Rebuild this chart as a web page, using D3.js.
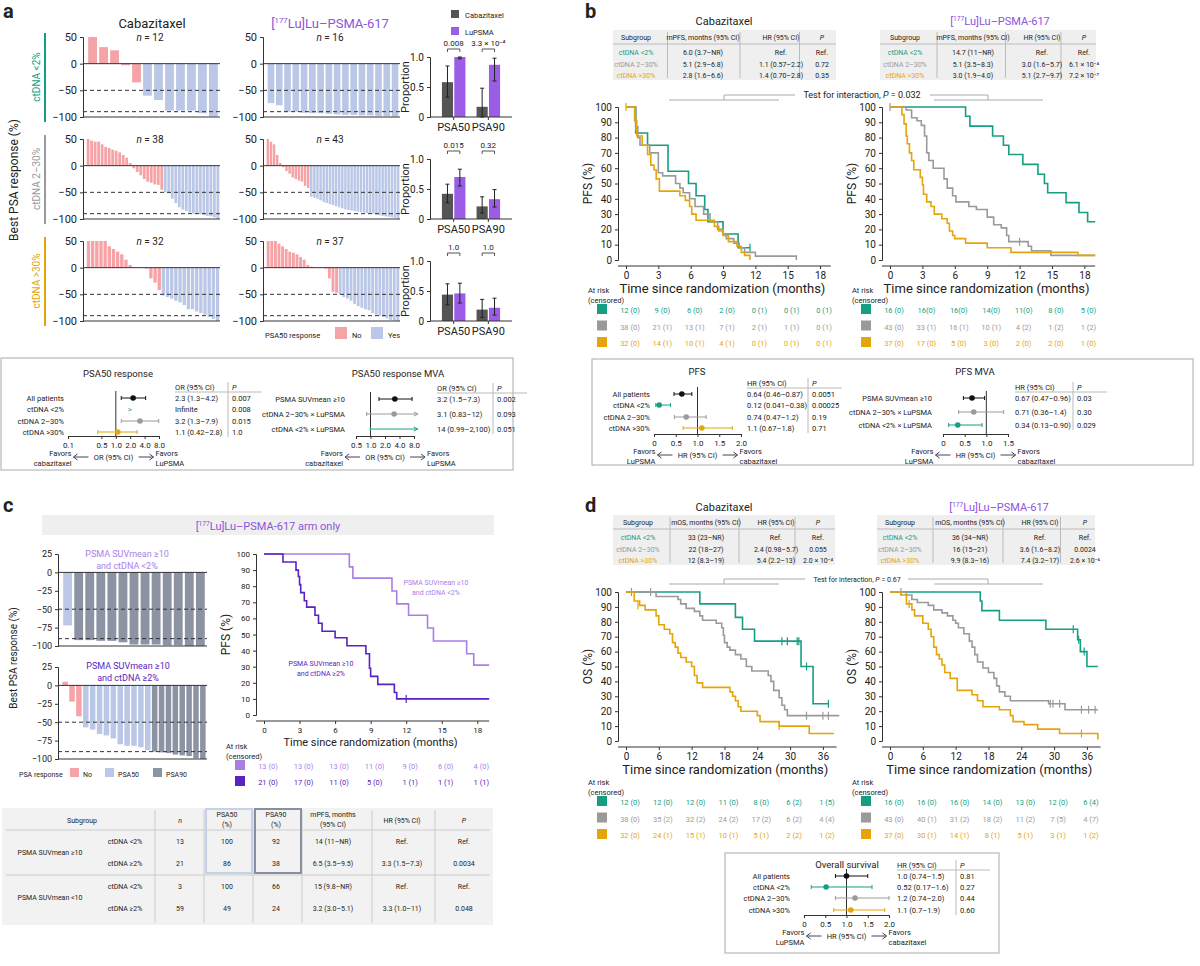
<!DOCTYPE html>
<html><head><meta charset="utf-8">
<script src="https://cdn.jsdelivr.net/npm/d3@7"></script>
<style>body{margin:0;background:#fff}svg{font-family:Roboto,"Noto Sans",sans-serif}</style>
</head><body><svg id="c" width="1200" height="966"></svg>
<script>
// ---- colours
var TEAL="#169e83", GREY="#9a9a9a", GOLD="#e5a50a", PINK="#f5a3a6", BLUE="#bac7e6", DARK="#8c93a3", PURP="#8e52dc", LPURP="#a97fe6", DPURP="#5a22c2";
var grpCols=[TEAL,GREY,GOLD];
var grpNames=["ctDNA <2%","ctDNA 2–30%","ctDNA >30%"];

// ---- panel a waterfall data (best PSA change, %)
var cab1=[50,31,25,-3,-35,-60,-68,-88,-88,-88,-93,-99];
var lu1=[-74,-78,-90,-90,-92,-93,-93,-94,-95,-96,-96,-97,-97,-98,-98,-99];
var cab2=[50,47,45,45,40,35,33,30,28,25,20,15,5,-5,-12,-18,-25,-30,-32,-35,-36,-45,-50,-52,-62,-70,-78,-82,-85,-88,-90,-90,-91,-92,-94,-95,-97,-100];
var lu2=[50,45,40,20,5,-3,-10,-15,-22,-25,-28,-30,-38,-42,-58,-60,-62,-65,-68,-70,-72,-74,-76,-78,-80,-82,-83,-84,-85,-86,-87,-88,-89,-90,-90,-92,-93,-94,-95,-96,-97,-98,-100];
var cab3=[50,50,50,50,50,40,35,30,25,15,5,0,0,0,-2,-20,-28,-42,-52,-55,-58,-62,-65,-70,-78,-78,-82,-85,-88,-92,-96,-100];
var lu3=[50,50,50,45,40,35,30,28,25,20,15,5,2,0,0,0,-2,-20,-45,-47,-50,-55,-58,-62,-68,-72,-75,-78,-80,-85,-88,-90,-92,-95,-98,-99,-100];
// proportions [cab, lu] for PSA50, PSA90 : value, lo, hi
var propRows=[
 {p50:[[.58,.33,.85],[1.0,.97,1.0]],p90:[[.17,0,.48],[.87,.6,.98]],pv:["0.008","3.3 × 10⁻⁴"]},
 {p50:[[.42,.27,.58],[.70,.55,.83]],p90:[[.21,.1,.37],[.33,.2,.49]],pv:["0.015","0.32"]},
 {p50:[[.44,.27,.62],[.46,.3,.63]],p90:[[.19,.06,.36],[.22,.1,.38]],pv:["1.0","1.0"]}];
// forest a
var orLabels=["All patients","ctDNA <2%","ctDNA 2–30%","ctDNA >30%"];
var orVals=[[2.3,1.3,4.2],[null,null,null],[3.2,1.3,7.9],[1.1,0.42,2.8]];
var orText=["2.3 (1.3–4.2)","Infinite","3.2 (1.3–7.9)","1.1 (0.42–2.8)"];
var orP=["0.007","0.008","0.015","1.0"];
var mvaLabels=["PSMA SUVmean ≥10","ctDNA 2–30% × LuPSMA","ctDNA <2% × LuPSMA"];
var mvaVals=[[3.2,1.5,7.3],[3.1,0.83,12],[14,0.99,2100]];
var mvaText=["3.2 (1.5–7.3)","3.1 (0.83–12)","14 (0.99–2,100)"];
var mvaP=["0.002","0.093","0.051"];

// ---- panel b KM (time months, PFS %)
var bCab=[
 [[0,100],[0.9,83],[2,75],[3.9,58],[5.8,50],[6.5,42],[7.3,33],[7.6,25],[9,17],[10.4,8],[11.5,8]],
 [[0,100],[0.9,87],[1.1,80],[1.3,75],[2.2,70],[3,57],[3.4,55],[4.6,50],[5,47],[5.3,44],[5.9,40],[6.4,35],[7.2,30],[7.8,25],[8.5,20],[9,17],[9.3,14],[10,11],[10.5,8],[11,5],[12,2.5],[15.8,2.5],[15.8,0]],
 [[0,100],[0.8,91],[1,81],[1.5,75],[2,69],[2.3,62],[2.6,59],[2.8,53],[3.1,45],[5,42],[5.5,39],[5.9,35],[6.1,30],[6.5,26],[8.2,22],[8.6,19],[9,16],[9.5,12],[10.3,9],[10.7,5],[11,3],[11.5,0]]];
var bLu=[
 [[0,100],[7,94],[7.4,87.5],[9.5,81],[10.5,75],[11,69],[12.3,62.5],[13.7,56],[14.3,50],[14.6,44],[16.3,37.5],[17.5,31],[18.3,25],[19,25]],
 [[0,100],[1.5,98],[2,93],[2.5,91],[2.9,88],[3.2,81],[3.4,70],[3.6,65],[4,60],[5,53],[5.3,47],[5.8,42],[6.1,38],[7.3,35],[8,33],[9,28],[9.6,23],[10.3,21],[10.8,16],[11,12],[12.8,9],[13.1,6],[14.9,3],[19,3]],
 [[0,100],[1.1,95],[1.3,89],[1.5,81],[1.6,76],[1.8,70],[2,65],[2.2,59],[2.8,54],[3,49],[3.1,43],[3.4,38],[3.8,35],[4.1,30],[4.8,27],[5.3,24],[5.5,19],[5.8,16],[6,14],[7,11],[9,8],[11.2,5],[17.4,3],[19,3]]];
var bCabCens=[[[11.5,8]],[[0.9,87]],[[0,100]]];
var bLuCens=[[],[[0,100],[12,12]],[]];
var bCabRisk=[["12 (0)","9 (0)","6 (0)","2 (0)","0 (1)","0 (1)","0 (1)"],["38 (0)","21 (1)","13 (1)","7 (1)","2 (1)","1 (1)","0 (1)"],["32 (0)","14 (1)","10 (1)","4 (1)","0 (1)","0 (1)","0 (1)"]];
var bLuRisk=[["16 (0)","16(0)","16(0)","14(0)","11(0)","8 (0)","5 (0)"],["43 (0)","33 (1)","16 (1)","10 (1)","4 (2)","1 (2)","1 (2)"],["37 (0)","17 (0)","5 (0)","3 (0)","2 (0)","2 (0)","1 (0)"]];
var bCabTable=[["6.0 (3.7–NR)","Ref.","Ref."],["5.1 (2.9–6.8)","1.1 (0.57–2.2)","0.72"],["2.8 (1.6–6.6)","1.4 (0.70–2.8)","0.35"]];
var bLuTable=[["14.7 (11–NR)","Ref.","Ref."],["5.1 (3.5–8.3)","3.0 (1.6–5.7)","6.1 × 10⁻⁴"],["3.0 (1.9–4.0)","5.1 (2.7–9.7)","7.2 × 10⁻⁷"]];
var pfsLabels=["All patients","ctDNA <2%","ctDNA 2–30%","ctDNA >30%"];
var pfsVals=[[0.64,0.46,0.87],[0.12,0.041,0.38],[0.74,0.47,1.2],[1.1,0.67,1.8]];
var pfsText=["0.64 (0.46–0.87)","0.12 (0.041–0.38)","0.74 (0.47–1.2)","1.1 (0.67–1.8)"];
var pfsP=["0.0051","0.00025","0.19","0.71"];
var pmvaLabels=["PSMA SUVmean ≥10","ctDNA 2–30% × LuPSMA","ctDNA <2% × LuPSMA"];
var pmvaVals=[[0.67,0.47,0.96],[0.71,0.36,1.4],[0.34,0.13,0.90]];
var pmvaText=["0.67 (0.47–0.96)","0.71 (0.36–1.4)","0.34 (0.13–0.90)"];
var pmvaP=["0.03","0.30","0.029"];

// ---- panel c
var cTop=[-72,-92,-92,-93,-93,-95,-98,-98,-98,-99,-99,-100,-100];
var cBot=[5,-22,-42,-57,-60,-66,-68,-72,-80,-82,-82,-84,-88,-90,-91,-92,-94,-95,-96,-99,-100];
var cKm=[
 [[0,100],[7.2,92],[7.5,85],[10.8,77],[11.2,69],[12.2,62],[13.8,54],[14.3,46],[17.1,38],[17.7,31],[19,31]],
 [[0,100],[1.6,95],[2.7,90],[2.9,86],[3,81],[3.1,76],[3.4,71],[3.6,67],[4.3,62],[4.6,57],[4.9,52],[6,48],[7,43],[8.6,38],[8.9,29],[9,24],[9.6,19],[11,14],[11.2,10],[19,10]]];
var cCens=[[],[[12,10]]];
var cRisk=[["13 (0)","13 (0)","13 (0)","11 (0)","9 (0)","6 (0)","4 (0)"],["21 (0)","17 (0)","11 (0)","5 (0)","1 (1)","1 (1)","1 (1)"]];
var cTableRows=[
 ["PSMA SUVmean ≥10","ctDNA <2%","13","100","92","14 (11–NR)","Ref.","Ref."],
 ["","ctDNA ≥2%","21","86","38","6.5 (3.5–9.5)","3.3 (1.5–7.3)","0.0034"],
 ["PSMA SUVmean <10","ctDNA <2%","3","100","66","15 (9.8–NR)","Ref.","Ref."],
 ["","ctDNA ≥2%","59","49","24","3.2 (3.0–5.1)","3.3 (1.0–11)","0.048"]];

// ---- panel d OS
var dCab=[
 [[0,100],[13.5,92],[20,83],[21.3,75],[23.5,67],[32,50],[34.2,25],[37,25]],
 [[0,100],[5.5,97],[9.5,95],[10,92],[11,89],[12.5,87],[13.5,84],[14,81],[16.5,79],[17.5,76],[17.8,71],[18,66],[18.5,63],[19,61],[20,58],[21,55],[22,50],[23,47],[26,44],[26.5,40],[27,34],[28,29],[28.5,24],[29,21],[29.5,17],[39,17]],
 [[0,100],[1.5,94],[2.5,91],[3.5,88],[5.5,84],[6,78],[7,75],[8,72],[8.5,66],[9,63],[9.5,59],[10,56],[11,53],[12,50],[12.5,44],[13,39],[14,36],[19,33],[19.5,30],[20,27],[20.5,23],[21,20],[24,17],[24.5,13],[28,10],[33.5,5],[38,5]]];
var dLu=[
 [[0,100],[16.5,94],[16.8,87.5],[20,81],[28.5,75],[34.3,68],[34.8,60],[36,50],[38,50]],
 [[0,100],[3,98],[4,95],[5,93],[7,91],[8,88],[9.5,86],[10.5,84],[11.5,81],[12,79],[12.5,76],[13.5,72],[14.5,67],[15,63],[15.5,58],[16,53],[17,49],[18,46],[19,42],[19.5,37],[20,33],[21,30],[22,27],[29,25],[32,21],[38,21]],
 [[0,100],[2,98],[3,92],[4,88],[4.5,84],[6,79],[7,75],[7.5,70],[8,63],[8.5,58],[9,55],[9.5,51],[10,46],[11,42],[12.3,34],[15,31],[16,27],[17,23],[20,21],[22,17],[22.5,13],[24.5,11],[27,8],[31,5],[38,5],[38,1]]];
var dCabCens=[[[28.5,67],[29.5,67],[31.3,67],[31.6,67],[33,50],[37,25]],[[1,100],[4.5,100],[33,17],[36,17],[37,17]],[[2.2,91],[28,10]]];
var dLuCens=[[[33.5,75],[34.5,68],[35.5,60]],[[2,100],[29.3,25],[29.8,25],[31,25],[35,21],[36.3,21],[37.5,21]],[[3.5,92],[35,5]]];
var dCabRisk=[["12 (0)","12 (0)","12 (0)","11 (0)","8 (0)","6 (2)","1 (5)"],["38 (0)","35 (2)","32 (2)","24 (2)","17 (2)","6 (2)","4 (4)"],["32 (0)","24 (1)","15 (1)","10 (1)","5 (1)","2 (2)","1 (2)"]];
var dLuRisk=[["16 (0)","16 (0)","16 (0)","14 (0)","13 (0)","12 (0)","6 (4)"],["43 (0)","40 (1)","31 (2)","18 (2)","11 (2)","7 (5)","4 (7)"],["37 (0)","30 (1)","14 (1)","8 (1)","5 (1)","3 (1)","1 (2)"]];
var dCabTable=[["33 (23–NR)","Ref.","Ref."],["22 (18–27)","2.4 (0.98–5.7)","0.055"],["12 (8.3–19)","5.4 (2.2–13)","2.0 × 10⁻⁴"]];
var dLuTable=[["36 (34–NR)","Ref.","Ref."],["16 (15–21)","3.6 (1.6–8.2)","0.0024"],["9.9 (8.3–16)","7.4 (3.2–17)","2.6 × 10⁻⁶"]];
var osVals=[[1.0,0.74,1.5],[0.52,0.17,1.6],[1.2,0.74,2.0],[1.1,0.7,1.9]];
var osText=["1.0 (0.74–1.5)","0.52 (0.17–1.6)","1.2 (0.74–2.0)","1.1 (0.7–1.9)"];
var osP=["0.81","0.27","0.44","0.60"];

var svg=d3.select("#c");

function txt(x,y,s,o){o=o||{};var t=svg.append("text").attr("x",x).attr("y",y).text(s)
 .attr("font-size",o.size||9).attr("fill",o.fill||"#222").attr("text-anchor",o.anchor||"start");
 if(o.bold)t.attr("font-weight","bold"); if(o.rot)t.attr("transform","rotate(-90,"+x+","+y+")"); if(o.italic)t.attr("font-style","italic"); return t;}
function luTitle(x,y,s,suffix){var t=svg.append("text").attr("x",x).attr("y",y).attr("font-size",s).attr("fill",PURP).attr("text-anchor","middle");
 t.append("tspan").text("[");t.append("tspan").text("177").attr("font-size",s*0.6).attr("dy",-s*0.4);
 t.append("tspan").text("Lu]Lu–PSMA-617"+(suffix||"")).attr("dy",s*0.4);}
function styleAxis(g,fs){g.selectAll("path,line").attr("stroke","#333");g.selectAll("text").attr("font-size",fs).attr("fill","#222").attr("font-family","Roboto,sans-serif");}

// panel letters
txt(3,18,"a",{size:20,bold:true});txt(585,18,"b",{size:20,bold:true});
txt(3,512,"c",{size:20,bold:true});txt(585,512,"d",{size:20,bold:true});

// ---------- waterfall
function waterfall(x0,x1,yTop,yBot,vals,ymin,ymax,ticks,colFn,fs){
 var x=d3.scaleBand().domain(d3.range(vals.length)).range([x0+3,x1]).padding(0.2);
 var y=d3.scaleLinear().domain([ymin,ymax]).range([yBot,yTop]);
 var g=svg.append("g");
 g.selectAll("rect").data(vals).enter().append("rect")
  .attr("x",(d,i)=>x(i)).attr("width",x.bandwidth())
  .attr("y",d=>y(Math.max(0,d))).attr("height",d=>Math.abs(y(d)-y(0))).attr("fill",colFn);
 [-50,-90].forEach(v=>g.append("line").attr("x1",x0).attr("x2",x1).attr("y1",y(v)).attr("y2",y(v)).attr("stroke","#333").attr("stroke-dasharray","4,3"));
 g.append("line").attr("x1",x0).attr("x2",x1).attr("y1",y(0)).attr("y2",y(0)).attr("stroke","#333");
 g.append("line").attr("x1",x0).attr("x2",x1).attr("y1",yBot).attr("y2",yBot).attr("stroke","#333");
 var ax=svg.append("g").attr("transform","translate("+x0+",0)").call(d3.axisLeft(y).tickValues(ticks).tickSize(3).tickFormat(d3.format("d")));
 styleAxis(ax,fs);
}
var aCol=d=>d>-50?PINK:BLUE;
var aRows=[[cab1,lu1,12,16],[cab2,lu2,38,43],[cab3,lu3,32,37]];
aRows.forEach(function(r,i){
 var yT=37+i*102, yB=117+i*102;
 waterfall(83,220,yT,yB,r[0],-100,50,[50,0,-50,-100],aCol,11);
 waterfall(263,400,yT,yB,r[1],-100,50,[50,0,-50,-100],aCol,11);
 var t=txt(150,yT+4,"",{size:10,anchor:"middle"});t.append("tspan").text("n").attr("font-style","italic");t.append("tspan").text(" = "+r[2]);
 t=txt(330,yT+4,"",{size:10,anchor:"middle"});t.append("tspan").text("n").attr("font-style","italic");t.append("tspan").text(" = "+r[3]);
 svg.append("line").attr("x1",45).attr("x2",45).attr("y1",33+i*102).attr("y2",122+i*102).attr("stroke",grpCols[i]).attr("stroke-width",2);
 txt(40,77+i*102,grpNames[i],{size:10,fill:grpCols[i],anchor:"middle",rot:true});
 // proportion bars
 var pr=propRows[i], yb=d3.scaleLinear().domain([0,1]).range([117+i*102,57+i*102]);
 var xb=d3.scaleBand().domain(["PSA50","PSA90"]).range([432,510]).padding(0.25);
 var xi=d3.scaleBand().domain([0,1]).range([0,xb.bandwidth()]).padding(0.1);
 ["PSA50","PSA90"].forEach(function(k,ki){var arr=ki?pr.p90:pr.p50;
  arr.forEach(function(v,j){var bx=xb(k)+xi(j);
   svg.append("rect").attr("x",bx).attr("width",xi.bandwidth()).attr("y",yb(v[0])).attr("height",yb(0)-yb(v[0])).attr("fill",j?"#9b5de5":"#555");
   var cx=bx+xi.bandwidth()/2;
   svg.append("line").attr("x1",cx).attr("x2",cx).attr("y1",yb(v[1])).attr("y2",yb(v[2])).attr("stroke","#222");
   [v[1],v[2]].forEach(e=>svg.append("line").attr("x1",cx-2).attr("x2",cx+2).attr("y1",yb(e)).attr("y2",yb(e)).attr("stroke","#222"));});
  var bx0=xb(k)+xi(0)+xi.bandwidth()/2, bx1=xb(k)+xi(1)+xi.bandwidth()/2, by=yb(1)-8;
  svg.append("path").attr("d","M"+bx0+","+(by+3)+"V"+by+"H"+bx1+"V"+(by+3)).attr("fill","none").attr("stroke","#555");
  txt((bx0+bx1)/2,by-3,pr.pv[ki],{size:8,anchor:"middle"});
 });
 var ay=svg.append("g").attr("transform","translate(430,0)").call(d3.axisLeft(yb).tickValues([0,0.5,1]).tickSize(3).tickFormat(d=>d==0?"0":d3.format(".1f")(d)));styleAxis(ay,10);
 var ax=svg.append("g").attr("transform","translate(0,"+(117+i*102)+")").call(d3.axisBottom(xb).tickSize(3));ax.select(".domain").attr("d","M430,0H512");styleAxis(ax,11);
 txt(409,87+i*102,"Proportion",{size:11,anchor:"middle",rot:true});
});
txt(152,28,"Cabazitaxel",{size:13,anchor:"middle"});luTitle(330,28,13);
txt(18,180,"Best PSA response (%)",{size:12,anchor:"middle",rot:true});
svg.append("rect").attr("x",451).attr("y",10).attr("width",8).attr("height",8).attr("fill","#555");txt(465,18,"Cabazitaxel",{size:7.5});
svg.append("rect").attr("x",451).attr("y",27).attr("width",8).attr("height",8).attr("fill","#9b5de5");txt(465,35,"LuPSMA",{size:7.5});
txt(265,338,"PSA50 response",{size:7.5});
svg.append("rect").attr("x",335).attr("y",327).attr("width",12).attr("height",12).attr("fill",PINK);txt(352,338,"No",{size:7.5});
svg.append("rect").attr("x",371).attr("y",327).attr("width",12).attr("height",12).attr("fill",BLUE);txt(388,338,"Yes",{size:7.5});

// ---------- forest helper
function forest(o){
 var x=(o.log?d3.scaleLog():d3.scaleLinear()).domain(o.domain).range(o.range);
 var gy=o.axisY;
 svg.append("line").attr("x1",x(o.ref)).attr("x2",x(o.ref)).attr("y1",o.rows[0]-7).attr("y2",gy).attr("stroke","#333");
 o.vals.forEach(function(v,i){var c=o.cols[i],y=o.rows[i];
  txt(o.labelX,y+3,o.labels[i],{size:7.5,anchor:"end"});
  if(v[0]!=null){var hi=Math.min(v[2],o.domain[1]*1.2);
   svg.append("line").attr("x1",x(Math.max(v[1],o.domain[0]*0.8))).attr("x2",x(hi)).attr("y1",y).attr("y2",y).attr("stroke",c);
   [v[1],v[2]].forEach(e=>{if(e>=o.domain[0]&&e<=o.domain[1])svg.append("line").attr("x1",x(e)).attr("x2",x(e)).attr("y1",y-2).attr("y2",y+2).attr("stroke",c);});
   if(v[2]>o.domain[1])svg.append("path").attr("d","M"+(x(hi)-4)+","+(y-2)+"L"+x(hi)+","+y+"L"+(x(hi)-4)+","+(y+2)).attr("fill","none").attr("stroke",c);
   if(v[0]<=o.domain[1])svg.append("circle").attr("cx",x(v[0])).attr("cy",y).attr("r",2.8).attr("fill",c);}
  else txt(x(o.ref)+12,y+3,">",{size:8,fill:c});
  txt(o.textX,y+3,o.text[i],{size:7.5});txt(o.pX,y+3,o.p[i],{size:7.5});
 });
 txt(o.textX,o.rows[0]-8,o.head,{size:7.5});txt(o.pX,o.rows[0]-8,"P",{size:7.5,italic:true});
 svg.append("line").attr("x1",o.pX-4).attr("x2",o.pX-4).attr("y1",o.rows[0]-16).attr("y2",o.rows[o.rows.length-1]+5).attr("stroke","#bbb");
 svg.append("line").attr("x1",o.textX).attr("x2",o.pX+30).attr("y1",o.rows[0]-6).attr("y2",o.rows[0]-6).attr("stroke","#bbb");
 var ax=svg.append("g").attr("transform","translate(0,"+gy+")").call(d3.axisBottom(x).tickValues(o.ticks).tickSize(3).tickFormat(o.fmt));styleAxis(ax,8);
 var cx=(o.range[0]+o.range[1])/2, fy=gy+24;
 txt(cx,fy,o.mid,{size:7.5,anchor:"middle"});
 txt(cx-42,fy-4,"Favors",{size:7.5,anchor:"end"});txt(cx-42,fy+6,o.left,{size:7.5,anchor:"end"});
 txt(cx+42,fy-4,"Favors",{size:7.5});txt(cx+42,fy+6,o.right,{size:7.5});
 svg.append("path").attr("d","M"+(cx-25)+","+(fy-3)+"H"+(cx-40)+"M"+(cx-36)+","+(fy-6)+"l-4,3l4,3").attr("stroke","#445").attr("fill","none");
 svg.append("path").attr("d","M"+(cx+25)+","+(fy-3)+"H"+(cx+40)+"M"+(cx+36)+","+(fy-6)+"l4,3l-4,3").attr("stroke","#445").attr("fill","none");
}
var fcols=["#111",TEAL,GREY,GOLD];
svg.append("rect").attr("x",1).attr("y",358).attr("width",512).attr("height",112).attr("fill","none").attr("stroke","#aaa");
txt(118,377,"PSA50 response",{size:9.5,anchor:"middle"});txt(398,377,"PSA50 response MVA",{size:9.5,anchor:"middle"});
forest({log:true,domain:[0.1,8],range:[68,159],ref:1,axisY:436,rows:[398,409,421,432],labelX:64,labels:orLabels,vals:orVals,cols:fcols,text:orText,p:orP,textX:175,pX:232,head:"OR (95% CI)",ticks:[0.1,0.5,1,2,4,8],fmt:d=>d==0.1?"0.1":d3.format(".1f")(d),mid:"OR (95% CI)",left:"cabazitaxel",right:"LuPSMA"});
forest({log:true,domain:[0.5,8],range:[356,414],ref:1,axisY:436,rows:[399,414,429],labelX:345,labels:mvaLabels,vals:mvaVals,cols:["#111",GREY,TEAL],text:mvaText,p:mvaP,textX:437,pX:497,head:"OR (95% CI)",ticks:[0.5,1,2,4,8],fmt:d3.format(".1f"),mid:"OR (95% CI)",left:"cabazitaxel",right:"LuPSMA"});

// ---------- KM helper
function km(o){
 var x=d3.scaleLinear().domain([0,o.xmax]).range([o.x0,o.x0+o.pxPer*o.xmax]);
 var y=d3.scaleLinear().domain([0,100]).range([o.y1,o.y0]);
 var line=d3.line().x(d=>x(d[0])).y(d=>y(d[1])).curve(d3.curveStepAfter);
 o.curves.forEach(function(c,i){svg.append("path").attr("d",line(c)).attr("fill","none").attr("stroke",o.cols[i]).attr("stroke-width",1.6);
  (o.cens[i]||[]).forEach(p=>svg.append("line").attr("x1",x(p[0])).attr("x2",x(p[0])).attr("y1",y(p[1])-4).attr("y2",y(p[1])+4).attr("stroke",o.cols[i]).attr("stroke-width",1.2));});
 var ay=svg.append("g").attr("transform","translate("+(o.x0-8)+",0)").call(d3.axisLeft(y).tickValues(d3.range(0,101,10)).tickSize(3));styleAxis(ay,o.fs);
 var ax=svg.append("g").attr("transform","translate(0,"+(o.y1+6)+")").call(d3.axisBottom(x).tickValues(o.ticks).tickSize(3));styleAxis(ax,o.fs);
 ax.select(".domain").attr("d","M"+(o.x0-8)+",0H"+x(o.xmax));
 txt((o.x0+x(o.xmax))/2-6,o.y1+(o.xlabDy||33),"Time since randomization (months)",{size:o.xfs||13,anchor:"middle"});
 txt(o.x0-34,(o.y0+o.y1)/2,o.ylab,{size:12,anchor:"middle",rot:true});
 txt(o.x0-38,o.riskY-20,"At risk",{size:7.5});txt(o.x0-38,o.riskY-10,"(censored)",{size:7.5});
 o.risk.forEach(function(r,i){var ry=o.riskY+i*o.riskGap;
  svg.append("rect").attr("x",o.x0-29).attr("y",ry-9).attr("width",10).attr("height",10).attr("fill",o.cols[i]);
  r.forEach((s,j)=>txt(x(o.ticks[j])+4,ry,s,{size:7.5,fill:o.cols[i],anchor:"middle"}));});
}
// small tables b/d
function smallTable(x0,y0,colX,head,rows,w){
 svg.append("rect").attr("x",x0).attr("y",y0).attr("width",w).attr("height",50).attr("fill","#efefef");
 svg.append("line").attr("x1",x0).attr("x2",x0+w).attr("y1",y0+14).attr("y2",y0+14).attr("stroke","#bbb");
 [1,2,3].forEach(k=>svg.append("line").attr("x1",colX[k]-(colX[k]-colX[k-1])/2-2).attr("x2",colX[k]-(colX[k]-colX[k-1])/2-2).attr("y1",y0+2).attr("y2",y0+48).attr("stroke","#bbb"));
 head.forEach((h,k)=>txt(colX[k],y0+10,h,{size:7,anchor:"middle",italic:k==3}));
 rows.forEach(function(r,i){var yy=y0+25+i*11.5;txt(colX[0],yy,grpNames[i],{size:7,fill:grpCols[i],anchor:"middle"});
  r.forEach((s,k)=>txt(colX[k+1],yy,s,{size:7,anchor:"middle"}));});
}
// b
txt(724,25,"Cabazitaxel",{size:11,anchor:"middle"});luTitle(1000,25,11);
smallTable(613,30,[636,703,781,822],["Subgroup","mPFS, months (95% CI)","HR (95% CI)","P"],bCabTable,223);
smallTable(880,30,[905,973,1042,1084],["Subgroup","mPFS, months (95% CI)","HR (95% CI)","P"],bLuTable,216);
svg.append("path").attr("d","M669,100H779M724,100V95H795").attr("stroke","#aaa").attr("fill","none");
svg.append("path").attr("d","M930,95H988V100M934,100H1043").attr("stroke","#aaa").attr("fill","none");
var ti=txt(862,98,"",{size:9,anchor:"middle"});ti.append("tspan").text("Test for interaction, ");ti.append("tspan").text("P").attr("font-style","italic");ti.append("tspan").text(" = 0.032");
var pfsTicks=[0,3,6,9,12,15,18];
km({x0:626,pxPer:10.78,xmax:19,y0:107,y1:260,curves:bCab,cens:bCabCens,cols:grpCols,ticks:pfsTicks,fs:10,ylab:"PFS (%)",risk:bCabRisk,riskY:313,riskGap:16.5});
km({x0:890,pxPer:10.8,xmax:19,y0:107,y1:260,curves:bLu,cens:bLuCens,cols:grpCols,ticks:pfsTicks,fs:10,ylab:"PFS (%)",risk:bLuRisk,riskY:313,riskGap:16.5});
svg.append("rect").attr("x",592).attr("y",359).attr("width",601).attr("height",106).attr("fill","none").attr("stroke","#aaa");
txt(697,375,"PFS",{size:9.5,anchor:"middle"});txt(975,375,"PFS MVA",{size:9.5,anchor:"middle"});
forest({domain:[0,2],range:[654,741],ref:1,axisY:434,rows:[394,405,417,428],labelX:650,labels:pfsLabels,vals:pfsVals,cols:fcols,text:pfsText,p:pfsP,textX:747,pX:812,head:"HR (95% CI)",ticks:[0,0.5,1,1.5,2],fmt:d=>d==0?"0":d3.format(".1f")(d),mid:"HR (95% CI)",left:"LuPSMA",right:"cabazitaxel"});
forest({domain:[0,1.5],range:[943,1008],ref:1,axisY:434,rows:[398,412,425],labelX:932,labels:pmvaLabels,vals:pmvaVals,cols:["#111",GREY,TEAL],text:pmvaText,p:pmvaP,textX:1015,pX:1077,head:"HR (95% CI)",ticks:[0,0.5,1,1.5],fmt:d=>d==0?"0":d3.format(".1f")(d),mid:"HR (95% CI)",left:"LuPSMA",right:"cabazitaxel"});

// c
svg.append("rect").attr("x",42).attr("y",515).attr("width",452).attr("height",20).attr("fill","#efefef");
luTitle(268,530,11," arm only");
var cCol3=d=>d>-50?PINK:(d>-90?BLUE:DARK);
waterfall(58,207,554,646,cTop,-100,25,[25,0,-25,-50,-75,-100],cCol3,9);
waterfall(58,207,667,759,cBot,-100,25,[25,0,-25,-50,-75,-100],cCol3,9);
txt(127,557,"PSMA SUVmean ≥10",{size:9,fill:LPURP,anchor:"middle"});txt(127,569,"and ctDNA <2%",{size:9,fill:LPURP,anchor:"middle"});
txt(128,669,"PSMA SUVmean ≥10",{size:9,fill:DPURP,anchor:"middle"});txt(128,681,"and ctDNA ≥2%",{size:9,fill:DPURP,anchor:"middle"});
txt(17,658,"Best PSA response (%)",{size:10,anchor:"middle",rot:true});
txt(19,777,"PSA response",{size:7});
[[PINK,"No",70],[BLUE,"PSA50",105],[DARK,"PSA90",153]].forEach(l=>{svg.append("rect").attr("x",l[2]).attr("y",768).attr("width",9).attr("height",9).attr("fill",l[0]);txt(l[2]+13,777,l[1],{size:7});});
km({x0:264,pxPer:11.85,xmax:19,y0:554,y1:715,curves:cKm,cens:cCens,cols:[LPURP,DPURP],ticks:pfsTicks,fs:8,ylab:"PFS (%)",risk:cRisk,riskY:769,riskGap:16,xlabDy:31,xfs:11});
txt(436,585,"PSMA SUVmean ≥10",{size:7,fill:LPURP,anchor:"middle"});txt(436,595,"and ctDNA <2%",{size:7,fill:LPURP,anchor:"middle"});
txt(321,666,"PSMA SUVmean ≥10",{size:7,fill:DPURP,anchor:"middle"});txt(321,676,"and ctDNA ≥2%",{size:7,fill:DPURP,anchor:"middle"});
// c table
svg.append("rect").attr("x",2).attr("y",808).attr("width",491).attr("height",117).attr("fill","#f2f2f2");
var cCols=[82,125,180,227,276,333,402,464];
[155,204,253,302,372,435].forEach(x=>svg.append("line").attr("x1",x).attr("x2",x).attr("y1",810).attr("y2",923).attr("stroke","#ccc"));
svg.append("line").attr("x1",6).attr("x2",490).attr("y1",830).attr("y2",830).attr("stroke","#ccc");
svg.append("line").attr("x1",6).attr("x2",490).attr("y1",875).attr("y2",875).attr("stroke","#ccc");
svg.append("rect").attr("x",206).attr("y",809).attr("width",46).attr("height",64).attr("fill","none").attr("stroke","#c5d0ea").attr("stroke-width",2);
svg.append("rect").attr("x",255).attr("y",809).attr("width",46).attr("height",64).attr("fill","none").attr("stroke","#8890a0").attr("stroke-width",2);
txt(82,823,"Subgroup",{size:7,anchor:"middle"});txt(180,823,"n",{size:7,anchor:"middle",italic:true});
txt(227,817,"PSA50",{size:7,anchor:"middle"});txt(227,827,"(%)",{size:7,anchor:"middle"});
txt(276,817,"PSA90",{size:7,anchor:"middle"});txt(276,827,"(%)",{size:7,anchor:"middle"});
txt(333,817,"mPFS, months",{size:7,anchor:"middle"});txt(333,827,"(95% CI)",{size:7,anchor:"middle"});
txt(402,823,"HR (95% CI)",{size:7,anchor:"middle"});txt(464,823,"P",{size:7,anchor:"middle",italic:true});
cTableRows.forEach(function(r,i){var yy=[844,866,889,911][i];
 if(r[0])txt(50,yy+11,r[0],{size:7,anchor:"middle"});
 r.slice(1).forEach((s,k)=>txt(cCols[k+1],yy,s,{size:7,anchor:"middle"}));});

// d
txt(724,511,"Cabazitaxel",{size:11,anchor:"middle"});luTitle(999,511,11);
smallTable(613,515,[638,706,776,818],["Subgroup","mOS, months (95% CI)","HR (95% CI)","P"],dCabTable,222);
smallTable(877,515,[900,970,1040,1085],["Subgroup","mOS, months (95% CI)","HR (95% CI)","P"],dLuTable,218);
svg.append("path").attr("d","M669,584H779M724,584V579H805").attr("stroke","#aaa").attr("fill","none");
svg.append("path").attr("d","M908,579H988V584M934,584H1043").attr("stroke","#aaa").attr("fill","none");
ti=txt(857,582,"",{size:7,anchor:"middle"});ti.append("tspan").text("Test for interaction, ");ti.append("tspan").text("P").attr("font-style","italic");ti.append("tspan").text(" = 0.67");
var osTicks=[0,6,12,18,24,30,36];
km({x0:626,pxPer:5.47,xmax:38.5,y0:592,y1:741,curves:dCab,cens:dCabCens,cols:grpCols,ticks:osTicks,fs:10,ylab:"OS (%)",risk:dCabRisk,riskY:805,riskGap:16.5});
km({x0:890,pxPer:5.47,xmax:38.5,y0:592,y1:741,curves:dLu,cens:dLuCens,cols:grpCols,ticks:osTicks,fs:10,ylab:"OS (%)",risk:dLuRisk,riskY:805,riskGap:16.5});
svg.append("rect").attr("x",725).attr("y",853).attr("width",274).attr("height",100).attr("fill","none").attr("stroke","#aaa");
txt(847,868,"Overall survival",{size:9.5,anchor:"middle"});
forest({domain:[0,2],range:[804,889],ref:1,axisY:915,rows:[876,887,898,910],labelX:790,labels:pfsLabels,vals:osVals,cols:fcols,text:osText,p:osP,textX:897,pX:960,head:"HR (95% CI)",ticks:[0,0.5,1,1.5,2],fmt:d=>d==0?"0":d3.format(".1f")(d),mid:"HR (95% CI)",left:"LuPSMA",right:"cabazitaxel"});
</script></body></html>
